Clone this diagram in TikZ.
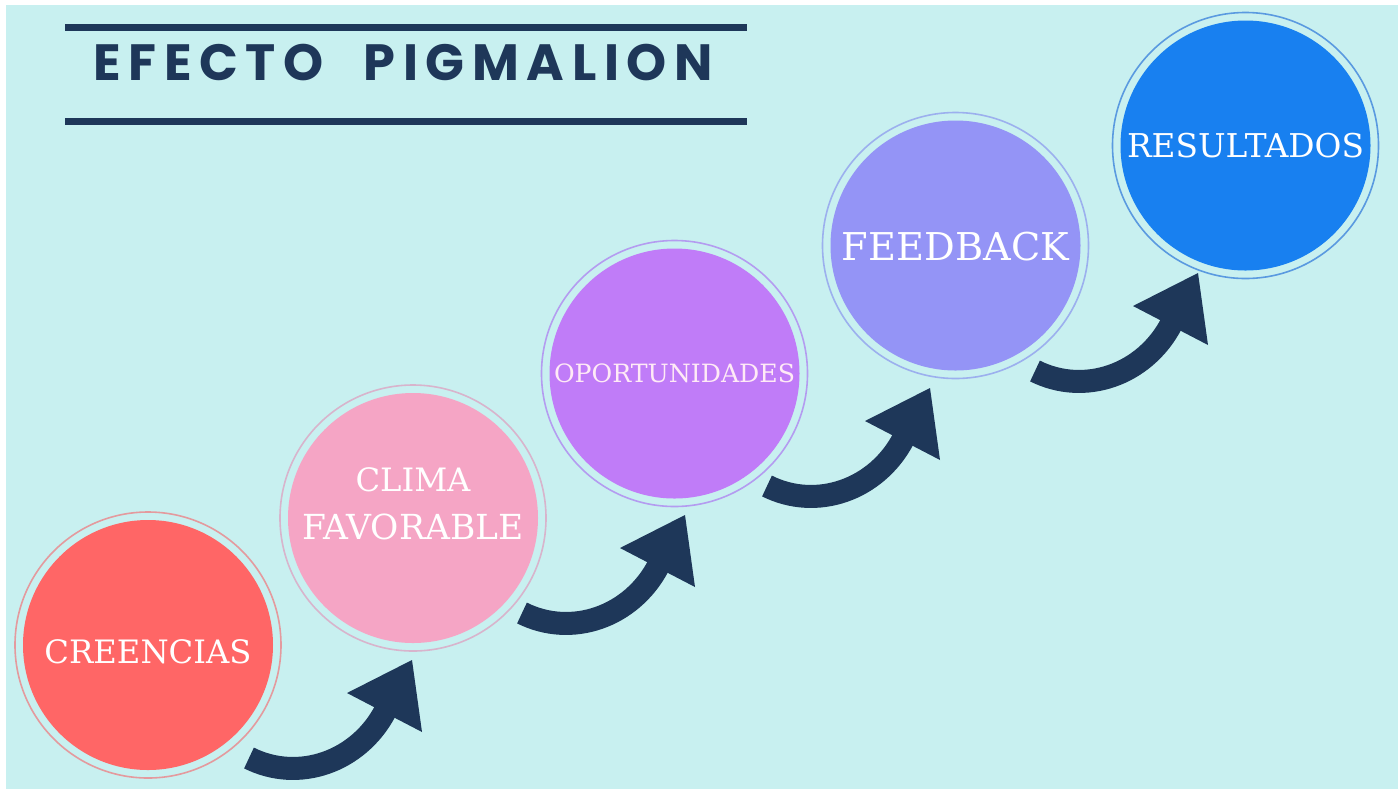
\documentclass[tikz,border=0pt]{standalone}
\usepackage{fontspec}
\usepackage{graphicx}
\newfontfamily\titlefont{Poppins}[LetterSpace=15]
\newfontfamily\labelfont{DejaVu Serif}
\usetikzlibrary{calc}
\definecolor{bg}{HTML}{C8F0F0}
\definecolor{navy}{HTML}{1E3759}
\definecolor{cred}{HTML}{FF6666}
\definecolor{cpink}{HTML}{F5A5C5}
\definecolor{cpurple}{HTML}{C07CF8}
\definecolor{cperi}{HTML}{9494F6}
\definecolor{cblue}{HTML}{1880F0}
\definecolor{rred}{HTML}{E49A9E}
\definecolor{rpink}{HTML}{D8B4CC}
\definecolor{rpurple}{HTML}{B49CF0}
\definecolor{rperi}{HTML}{9CB0EE}
\definecolor{rblue}{HTML}{5A9AE0}
\definecolor{txtpink}{HTML}{FFEAF6}
\newcommand\fitw[2]{\resizebox{#1}{!}{#2}}
\newcommand\bentarrow[1]{%
  \draw[shaft] ($(#1)+(-163,98)$) .. controls ($(#1)+(-113.3,122.9)$) and ($(#1)+(-53.3,101.8)$) .. ($(#1)+(-26.6,50.7)$);
  \fill[ahead] (#1) -- ($(#1)+(-65,33)$) -- ($(#1)+(10,72)$) -- cycle;}
\tikzset{
  bubble/.style={circle, fill=#1, minimum size=125pt, inner sep=0pt},
  ringline/.style={draw=#1, line width=0.8pt},
  lbl/.style={text=white, font=\labelfont, inner sep=0pt},
  titlerule/.style={draw=navy, line width=3.25pt},
  shaft/.style={draw=navy, line width=11.5pt},
  ahead/.style={fill=navy},
}
\begin{document}
\begin{tikzpicture}[x=0.5pt,y=-0.5pt]
\useasboundingbox (0,0) rectangle (1398,789);
\fill[white] (0,0) rectangle (1398,789);
\fill[bg] (6,5) rectangle (1398,789);
% title
\draw[titlerule] (65,27.5) -- (747,27.5);
\draw[titlerule] (65,121.5) -- (747,121.5);
\node[anchor=base west, inner sep=0pt, text=navy, font=\titlefont\bfseries\fontsize{25.5}{30}\selectfont] (title) at (93,80) {EFECTO\hspace{20pt}PIGMALION};
% circles
\node[bubble=cred] (c1) at (148,645) {};
\node[bubble=cpink] (c2) at (413,518) {};
\node[bubble=cpurple] (c3) at (674.5,373.5) {};
\node[bubble=cperi] (c4) at (955.5,245.5) {};
\node[bubble=cblue] (c5) at (1245.5,145.5) {};
\draw[ringline=rred] (c1.center) circle[radius=133];
\draw[ringline=rpink] (c2.center) circle[radius=133];
\draw[ringline=rpurple] (c3.center) circle[radius=133];
\draw[ringline=rperi] (c4.center) circle[radius=133];
\draw[ringline=rblue] (c5.center) circle[radius=133];
% labels
\node[lbl] (l1) at ($(c1)+(0,7)$) {\fitw{103.5pt}{CREENCIAS}};
\node[lbl] (l2a) at ($(c2)+(0,-38)$) {\fitw{57.5pt}{CLIMA}};
\node[lbl] (l2b) at ($(c2)+(0,9)$) {\fitw{110.5pt}{FAVORABLE}};
\node[lbl, text=txtpink] (l3) at ($(c3)+(0,0)$) {\fitw{120.5pt}{OPORTUNIDADES}};
\node[lbl] (l4) at ($(c4)+(0,1.5)$) {\fitw{113.5pt}{FEEDBACK}};
\node[lbl] (l5) at ($(c5)+(0,0.5)$) {\fitw{118.5pt}{RESULTADOS}};
% arrows
\coordinate (a1) at ($(c2)+(-1,142)$);
\coordinate (a2) at ($(c3)+(10.5,141.5)$);
\coordinate (a3) at ($(c4)+(-25.5,142.5)$);
\coordinate (a4) at ($(c5)+(-47.5,127.5)$);
\bentarrow{a1}
\bentarrow{a2}
\bentarrow{a3}
\bentarrow{a4}
\end{tikzpicture}
\end{document}
